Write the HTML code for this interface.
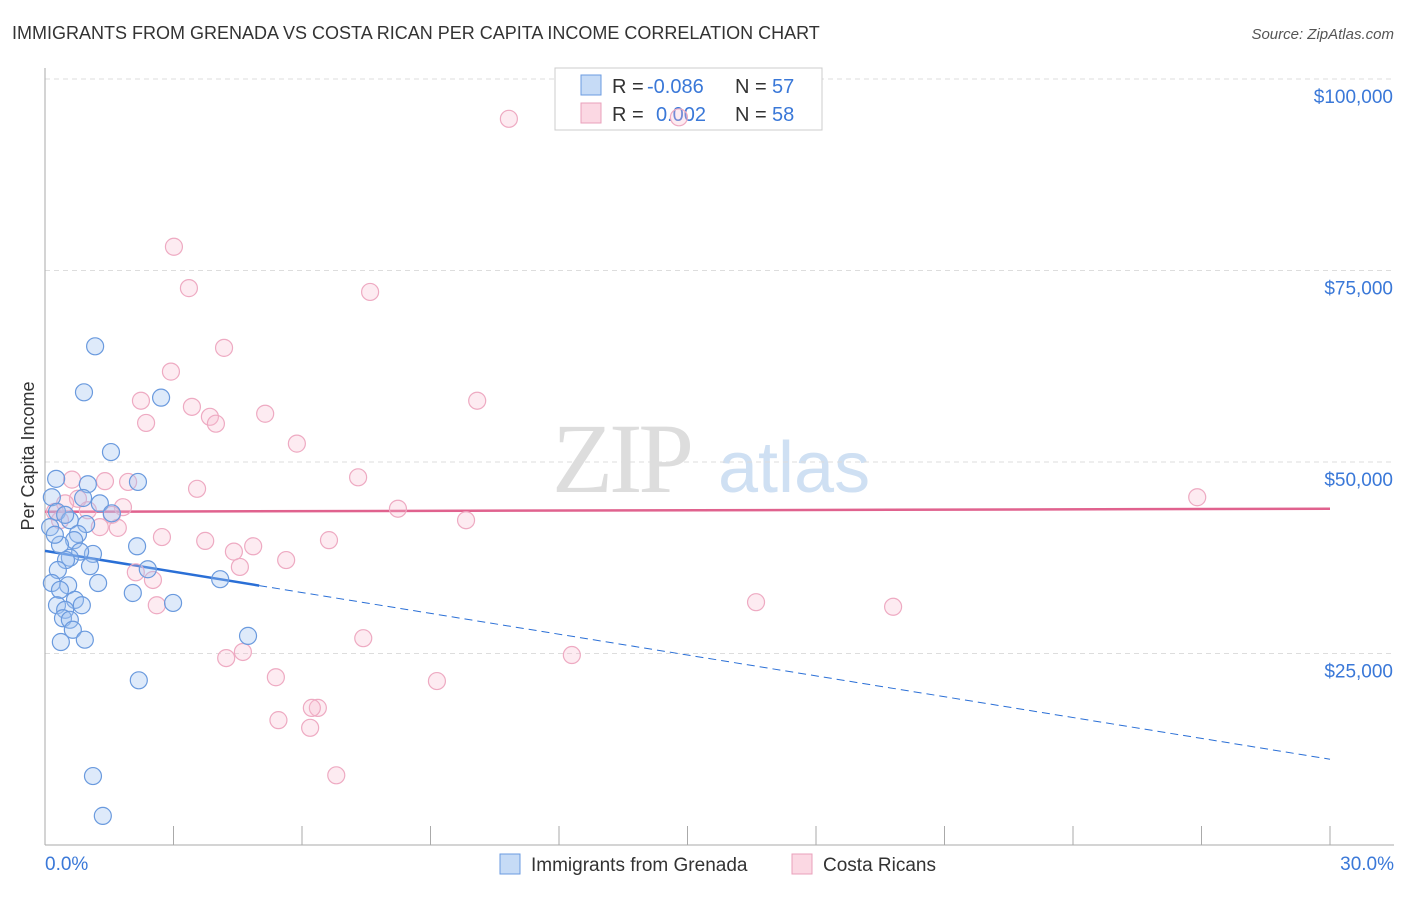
<!DOCTYPE html>
<html><head><meta charset="utf-8"><style>
body{margin:0;background:#fff;font-family:"Liberation Sans",sans-serif}
</style></head><body>
<svg id="chart" width="1406" height="892" xmlns="http://www.w3.org/2000/svg">
<text x="12" y="39" font-size="18" fill="#333">IMMIGRANTS FROM GRENADA VS COSTA RICAN PER CAPITA INCOME CORRELATION CHART</text>
<text x="1394" y="39" font-size="15" fill="#555" font-style="italic" text-anchor="end">Source: ZipAtlas.com</text>
<text x="34" y="456" font-size="18" fill="#333" transform="rotate(-90 34 456)" text-anchor="middle">Per Capita Income</text>
<g>
<text x="552" y="492" font-family="Liberation Serif,serif" font-size="100" fill="#ddd" letter-spacing="-4">ZIP</text>
<text x="718" y="492" font-size="72" fill="#cfe0f3">atlas</text>
</g>
<g id="grid"></g><g id="axes"></g>
<g>
<rect x="555" y="68" width="267" height="62" fill="#fff" stroke="#ccc"/>
<rect x="581" y="75" width="20" height="20" fill="rgba(160,195,240,0.6)" stroke="#6b9be0"/>
<rect x="581" y="103" width="20" height="20" fill="rgba(248,190,208,0.6)" stroke="#eaa0bb"/>
<text x="612" y="93" font-size="20" fill="#333">R =</text>
<text x="647" y="93" font-size="20" fill="#3a78d8">-0.086</text>
<text x="735" y="93" font-size="20" fill="#333">N =</text>
<text x="772" y="93" font-size="20" fill="#3a78d8">57</text>
<text x="612" y="121" font-size="20" fill="#333">R =</text>
<text x="656" y="121" font-size="20" fill="#3a78d8">0.002</text>
<text x="735" y="121" font-size="20" fill="#333">N =</text>
<text x="772" y="121" font-size="20" fill="#3a78d8">58</text>
</g>
<g id="trend"></g><g id="pts"></g>
<g>
<rect x="500" y="854" width="20" height="20" fill="rgba(160,195,240,0.6)" stroke="#6b9be0"/>
<text x="531" y="871" font-size="19" fill="#333">Immigrants from Grenada</text>
<rect x="792" y="854" width="20" height="20" fill="rgba(248,190,208,0.6)" stroke="#eaa0bb"/>
<text x="823" y="871" font-size="19" fill="#333">Costa Ricans</text>
</g>
</svg>
<script>
const blueX=[1.17,0.91,2.71,1.54,2.17,0.26,1.0,0.16,0.89,1.28,1.56,0.28,0.58,0.96,0.12,0.77,0.68,2.15,0.35,1.12,0.82,0.58,0.49,1.05,0.30,2.4,0.16,0.54,1.24,4.09,2.05,0.35,0.7,0.28,0.86,2.99,0.47,0.42,0.58,0.65,0.93,0.37,4.74,2.19,1.12,1.35,0.23,0.47];
const blueY=[65.1,59.1,58.4,51.3,47.4,47.8,47.1,45.4,45.3,44.6,43.3,43.5,42.4,41.9,41.5,40.6,39.8,39.0,39.2,38.0,38.3,37.5,37.2,36.4,35.9,36.0,34.2,33.9,34.2,34.7,32.9,33.3,32.0,31.3,31.3,31.6,30.7,29.6,29.4,28.1,26.8,26.5,27.3,21.5,9.0,3.8,40.5,43.1];
const pinkX=[10.83,14.8,3.01,3.36,7.59,4.18,2.94,2.24,10.09,3.43,5.14,3.85,2.36,3.99,5.88,7.31,3.55,26.9,0.63,1.4,1.94,0.77,0.47,1.82,8.24,1.0,0.23,1.56,9.83,1.28,1.7,2.73,6.63,3.74,4.41,4.86,5.63,4.55,2.12,2.52,2.61,16.6,19.8,7.43,4.62,4.23,12.3,5.39,9.15,5.45,6.37,6.23,6.19,6.8,0.35];
const pinkY=[94.8,95.0,78.1,72.7,72.2,64.9,61.8,58.0,58.0,57.2,56.3,55.9,55.1,55.0,52.4,48.0,46.5,45.4,47.7,47.5,47.4,45.2,44.6,44.1,43.9,43.7,43.5,43.1,42.4,41.5,41.4,40.2,39.8,39.7,38.3,39.0,37.2,36.3,35.6,34.6,31.3,31.7,31.1,27.0,25.2,24.4,24.8,21.9,21.4,16.3,17.9,17.9,15.3,9.1,42.4];
const yTicks=[25,50,75,100];
const yTickLabels=["$25,000","$50,000","$75,000","$100,000"];
const blueTrend=[38.4,11.2];
const pinkTrend=[43.5,43.9];
const NS="http://www.w3.org/2000/svg";
const sx=v=>45+v/30*1285, sy=v=>845-v*7.66;
function mk(t,a,p){const e=document.createElementNS(NS,t);for(const k in a)e.setAttribute(k,a[k]);p.appendChild(e);return e;}
const grid=document.getElementById('grid'),axes=document.getElementById('axes');
yTicks.forEach((t,i)=>{
 const l=mk('line',{x1:45,x2:1394,y1:sy(t),y2:sy(t),stroke:'#ddd','stroke-dasharray':'5,4'},grid);
 
 
 const tx=mk('text',{x:1393,y:sy(t)+24,'font-size':19,fill:'#3a78d8','text-anchor':'end'},axes);
 tx.textContent=yTickLabels[i];
 
 
});
const ya=mk('line',{x1:45,x2:45,y1:68,y2:845,stroke:'#aaa'},axes);


const xa=mk('line',{x1:45,x2:1394,y1:845,y2:845,stroke:'#aaa'},axes);


for(let i=0;i<=10;i++){const t=mk('line',{x1:sx(i*3),x2:sx(i*3),y1:826,y2:845,stroke:'#aaa'},axes);
 
 }
[["0.0%",45,'start'],["30.0%",1394,'end']].forEach(a=>{const t=mk('text',{x:a[1],y:870,'font-size':19,fill:'#3a78d8','text-anchor':a[2]},axes);t.textContent=a[0];
 
 });
const pts=document.getElementById('pts');
pinkX.forEach((x,i)=>{const c=mk('circle',{cx:sx(x),cy:sy(pinkY[i]),r:8.5,fill:'rgba(248,190,208,0.3)',stroke:'#eeaac2','stroke-width':1.2},pts);
 
 });
blueX.forEach((x,i)=>{const c=mk('circle',{cx:sx(x),cy:sy(blueY[i]),r:8.5,fill:'rgba(160,195,240,0.35)',stroke:'#6a9ade','stroke-width':1.2},pts);
 
 });
const tr=document.getElementById('trend');
const bAt=x=>blueTrend[0]+(blueTrend[1]-blueTrend[0])*x/30;
const b1=mk('line',{x1:sx(0),y1:sy(bAt(0)),x2:sx(5),y2:sy(bAt(5)),stroke:'#2a6fd6','stroke-width':2.5},tr);


const b2=mk('line',{x1:sx(5),y1:sy(bAt(5)),x2:sx(30),y2:sy(bAt(30)),stroke:'#2a6fd6','stroke-width':1,'stroke-dasharray':'8,5'},tr);


const p1=mk('line',{x1:sx(0),y1:sy(pinkTrend[0]),x2:sx(30),y2:sy(pinkTrend[1]),stroke:'#e0628e','stroke-width':2.5},tr);


</script>
</body></html>
